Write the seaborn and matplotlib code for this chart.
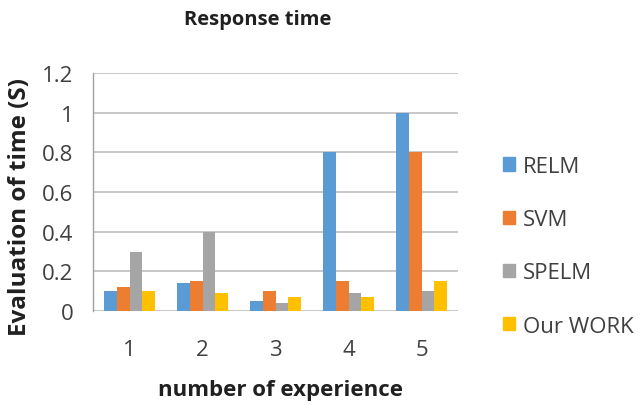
import matplotlib
matplotlib.use("Agg")
import matplotlib.pyplot as plt
import seaborn as sns
import pandas as pd

experiments = ["1", "2", "3", "4", "5"]
methods = ["RELM", "SVM", "SPELM", "Our WORK"]
relm = [0.10, 0.14, 0.05, 0.80, 1.00]
svm = [0.12, 0.15, 0.10, 0.15, 0.80]
spelm = [0.30, 0.40, 0.04, 0.09, 0.10]
our_work = [0.10, 0.09, 0.07, 0.07, 0.15]
y_ticks = [0, 0.2, 0.4, 0.6, 0.8, 1, 1.2]
y_tick_labels = ["0", "0.2", "0.4", "0.6", "0.8", "1", "1.2"]

colors = ["#5B9BD5", "#ED7D31", "#A5A5A5", "#FFC000"]

df = pd.DataFrame({
    "experiment": experiments * 4,
    "method": sum([[m] * 5 for m in methods], []),
    "time": relm + svm + spelm + our_work,
})

sns.set_theme(style="white")
plt.rcParams["font.family"] = ["Open Sans", "DejaVu Sans"]

fig = plt.figure(figsize=(6.44, 4.06), dpi=100)
ax = fig.add_axes([93 / 644, 1 - 312 / 406, (458 - 93) / 644, (312 - 74) / 406])

sns.barplot(data=df, x="experiment", y="time", hue="method", order=experiments,
            hue_order=methods, palette=colors, width=0.7, saturation=1,
            linewidth=0, ax=ax, legend=False)

ax.set_ylim(0, 1.2)
ax.set_yticks(y_ticks)
ax.set_yticklabels(y_tick_labels)
ax.yaxis.grid(True, color="#BFBFBF", linewidth=1.2)
ax.set_axisbelow(True)
for s in ["top", "right", "bottom"]:
    ax.spines[s].set_visible(False)
ax.spines["left"].set_color("#A0A0A0")
ax.spines["left"].set_linewidth(1.0)
ax.tick_params(axis="both", labelsize=16, colors="#404040", length=0)
ax.tick_params(axis="x", pad=20)
ax.tick_params(axis="y", pad=14)
ax.set_xlabel("")
ax.set_ylabel("")

fig.text(258 / 644, 1 - 20 / 406, "Response time", ha="center", va="center",
         fontsize=14.5, fontweight="bold", color="#202020")
fig.text(20 / 644, 1 - 207 / 406, "Evaluation of time (S)", ha="center", va="center",
         rotation=90, fontsize=17.5, fontweight="bold", color="#202020")
fig.text(281 / 644, 1 - 391 / 406, "number of experience", ha="center", va="center",
         fontsize=16, fontweight="bold", color="#202020")

handles = [plt.Rectangle((0, 0), 1, 1, color=c) for c in colors]
fig.legend(handles, methods, loc="upper left", bbox_to_anchor=(483 / 644, 1 - 137 / 406),
           frameon=False, fontsize=16, handlelength=0.55, handleheight=0.55,
           handletextpad=0.35, labelspacing=1.45, labelcolor="#404040")

fig.savefig("out.png", dpi=100)
